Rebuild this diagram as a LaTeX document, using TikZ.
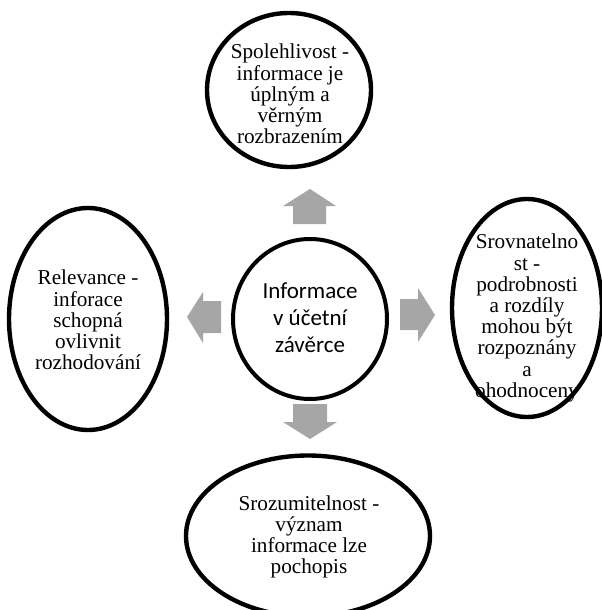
\documentclass[tikz,border=0pt]{standalone}
\usepackage{fontspec}
\setmainfont{Liberation Serif}
\newfontfamily\calibfont{Carlito}
\usetikzlibrary{shapes.geometric}
\definecolor{arrowgray}{RGB}{166,166,166}
\begin{document}
\begin{tikzpicture}[x=0.75pt,y=-0.75pt,
  bubble/.style={shape=ellipse, draw=black, line width=3.3pt, fill=white, inner sep=0pt},
  txt/.style={font=\fontsize{15.9}{15.9}\selectfont, align=center, inner sep=0pt},
  ctxt/.style={font=\calibfont\fontsize{17.25}{20.3}\selectfont, align=center, inner sep=0pt},
  blockarrow/.style={fill=arrowgray, draw=none}]
\useasboundingbox (0,0) rectangle (602,610);
\clip (0,0) rectangle (602,610);
% shapes
\node[bubble, minimum width=164*0.75pt, minimum height=154*0.75pt] (top) at (289,90) {};
\node[bubble, minimum width=158*0.75pt, minimum height=222*0.75pt] (left) at (88,319) {};
\node[bubble, minimum width=150*0.75pt, minimum height=218*0.75pt] (right) at (527,308) {};
\node[bubble, minimum width=244*0.75pt, minimum height=161*0.75pt] (bottom) at (308,536) {};
\node[bubble, line width=3pt, minimum width=154*0.75pt, minimum height=160*0.75pt] (center) at (310,319) {};
% texts
\node[txt] (toptext) at (290,94) {Spolehlivost -\\informace je\\úplným a\\věrným\\rozbrazením};
\node[txt] (lefttext) at (88,320) {Relevance -\\inforace\\schopná\\ovlivnit\\rozhodování};
\node[txt] (righttext) at (527,318) {Srovnatelno\\st -\\podrobnosti\\a rozdíly\\mohou být\\rozpoznány\\a\\ohodnoceny};
\node[txt] (bottomtext) at (309,537) {Srozumitelnost -\\význam\\informace lze\\pochopis};
\node[ctxt] (centertext) at (310,318) {Informace\\v účetní\\závěrce};
% block arrows
\fill[blockarrow] (310,189) -- (336,206) -- (326,206) -- (326,224) -- (293,224) -- (293,206) -- (283,206) -- cycle;
\fill[blockarrow] (187,317) -- (203,292) -- (203,301) -- (221,301) -- (221,333) -- (203,333) -- (203,343) -- cycle;
\fill[blockarrow] (435,315) -- (418,288) -- (418,299) -- (400,299) -- (400,330) -- (418,330) -- (418,342) -- cycle;
\fill[blockarrow] (310,439) -- (337,422) -- (327,422) -- (327,404) -- (293,404) -- (293,422) -- (283,422) -- cycle;
\end{tikzpicture}
\end{document}
